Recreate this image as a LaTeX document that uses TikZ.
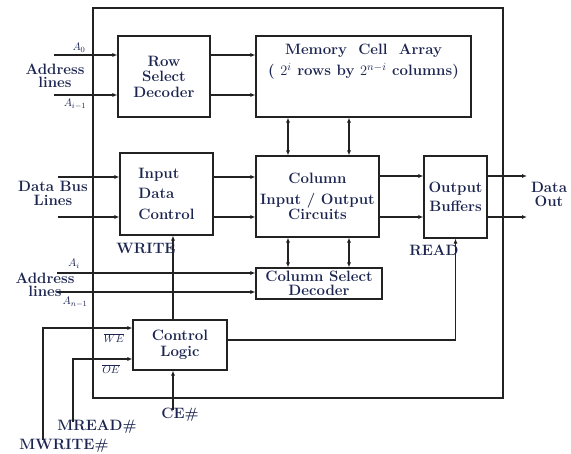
\documentclass[tikz,border=0pt]{standalone}
\usepackage{amsmath}
\usepackage{xcolor}
\usepackage{tikz}
\usetikzlibrary{arrows.meta,calc,positioning}
\definecolor{labelnavy}{HTML}{1C2550}
\definecolor{wiregray}{HTML}{222222}

\tikzset{
  block/.style={draw=wiregray,line width=1.1pt,inner sep=2pt,align=center,
    text=labelnavy,font=\fontsize{15}{15.5}\selectfont\bfseries},
  tag/.style={text=labelnavy,inner sep=0pt,align=center,
    font=\fontsize{15}{15.5}\selectfont\bfseries},
  sig/.style={text=labelnavy,inner sep=0pt,font=\fontsize{11}{12}\selectfont},
  wire/.style={line width=1.1pt,draw=wiregray},
}

\begin{document}
\begin{tikzpicture}[x=1pt,y=-1pt,>={Latex[length=5pt,width=4pt]}]
  \useasboundingbox (0,0) rectangle (571,454);
  % chip outline
  \draw[wire] (93,8) rectangle (503,398);

  % blocks
  \node[block,minimum width=92pt,minimum height=81pt] (rsd) at (164,76.5) {Row\\Select\\Decoder};
  \node[block,minimum width=215pt,minimum height=81pt,
    label={[tag,anchor=north,yshift=-8pt]north:{Memory\ \ Cell\ \ Array\\[6pt] ( $2^{i}$ rows by $2^{n-i}$ columns)}}] (mem) at (363.5,76.5) {};
  \node[block,minimum width=93pt,minimum height=82pt,align=left] (idc) at (166.5,194) {Input\\[4pt]Data\\[6pt]Control};
  \node[block,inner sep=0pt,minimum width=123pt,minimum height=81pt] (cio) at (317.5,196.5) {Column\\[5pt]Input / Output\\Circuits};
  \node[block,inner sep=0pt,minimum width=63pt,minimum height=82pt] (obuf) at (455.5,197) {Output\\[3pt]Buffers};
  \node[block,inner sep=0pt,minimum width=126pt,minimum height=31pt] (csd) at (319,283.5) {Column Select\\[-1.5pt]Decoder};
  \node[block,minimum width=94pt,minimum height=50pt] (ctl) at (180,345) {Control\\Logic};

  % free ends
  \coordinate (a0in) at (54,55);
  \coordinate (ailin) at (54,95);
  \coordinate (db1) at (58,177);
  \coordinate (db2) at (58,217);
  \coordinate (do1) at (527,176);
  \coordinate (do2) at (527,217);
  \coordinate (aiin) at (57,273);
  \coordinate (anin) at (57,292);
  \coordinate (c1) at (288,0);
  \coordinate (c2) at (349,0);
  \coordinate (cein) at (173,410);
  \coordinate (wein) at (43,440);
  \coordinate (oein) at (73,422);

  % row address in
  \draw[wire,->] (a0in) -- (a0in -| rsd.west);
  \draw[wire,->] (ailin) -- (ailin -| rsd.west);
  \draw[wire,->] (a0in -| rsd.east) -- (a0in -| mem.west);
  \draw[wire,->] (ailin -| rsd.east) -- (ailin -| mem.west);

  % data path
  \draw[wire,->] (db1) -- (db1 -| idc.west);
  \draw[wire,->] (db2) -- (db2 -| idc.west);
  \draw[wire,->] (db1 -| idc.east) -- (db1 -| cio.west);
  \draw[wire,->] (db2 -| idc.east) -- (db2 -| cio.west);
  \draw[wire,->] (do1 -| cio.east) -- (do1 -| obuf.west);
  \draw[wire,->] (do2 -| cio.east) -- (do2 -| obuf.west);
  \draw[wire,->] (do1 -| obuf.east) -- (do1);
  \draw[wire,->] (do2 -| obuf.east) -- (do2);

  % bidirectional links
  \foreach \c in {c1,c2}{
    \draw[wire,<->] (mem.south -| \c) -- (cio.north -| \c);
    \draw[wire,<->] (cio.south -| \c) -- (csd.north -| \c);
  }

  % column address in
  \draw[wire,->] (aiin) -- (aiin -| csd.west);
  \draw[wire,->] (anin) -- (anin -| csd.west);

  % control
  \draw[wire,->] (ctl.north -| cein) -- (idc.south -| cein);
  \draw[wire,->] ([yshift=5pt]ctl.east) -| (obuf.south);
  \draw[wire,->] (cein) -- (cein |- ctl.south);
  \draw[wire,->] (wein) |- ([yshift=17pt]ctl.west);
  \draw[wire,->] (oein) |- ([yshift=-14pt]ctl.west);

  % texts
  \node[tag,font=\fontsize{15}{13.5}\selectfont\bfseries] (addr1) at (55,76) {Address\\lines};
  \node[tag,font=\fontsize{15}{13.5}\selectfont\bfseries] (dbus) at (53,193.5) {Data Bus\\Lines};
  \node[tag,font=\fontsize{15}{13.5}\selectfont\bfseries] (addr2) at (45,285) {Address\\lines};
  \node[tag,font=\fontsize{15}{13.5}\selectfont\bfseries] (dout) at (549,194.5) {Data\\Out};
  \node[tag] (write) at (146,248) {WRITE};
  \node[tag] (read) at (434,250) {READ};
  \node[tag] (ce) at (180,415) {CE\#};
  \node[tag] (mread) at (97,427) {MREAD\#};
  \node[tag] (mwrite) at (64,446) {MWRITE\#};
  \node[sig] (la0) at (79,48) {$A_0$};
  \node[sig] (lai) at (75,104) {$A_{i-1}$};
  \node[sig] (laii) at (74,264) {$A_i$};
  \node[sig] (lan) at (75,302) {$A_{n-1}$};
  \node[sig] (lwe) at (114,338) {$\overline{WE}$};
  \node[sig] (loe) at (111,369) {$\overline{OE}$};
\end{tikzpicture}
\end{document}
